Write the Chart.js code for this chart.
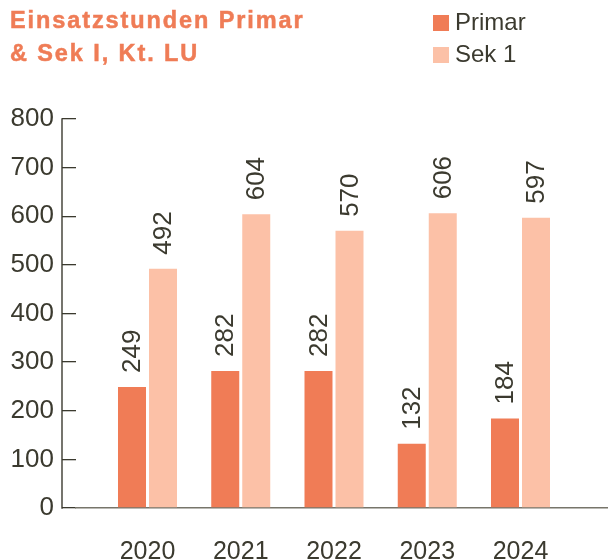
<!DOCTYPE html>
<html>
<head>
<meta charset="utf-8">
<script src="https://cdn.jsdelivr.net/npm/chart.js@4/dist/chart.umd.min.js"></script>
<style>
  html, body { margin: 0; padding: 0; background: #ffffff; }
  #wrap { position: relative; width: 608px; height: 560px; overflow: hidden; }
  #c { position: absolute; left: 0; top: 0; }
  #title {
    position: absolute; left: 10px; top: 3.8px;
    font-family: "Liberation Sans", Arial, sans-serif; font-weight: bold;
    font-size: 23.5px; letter-spacing: 1.9px; line-height: 33.4px; color: #ef7c56; white-space: nowrap;
    -webkit-text-stroke: 0.5px #ef7c56;
  }
  #legend { position: absolute; left: 433px; top: 6.4px; }
  .li { position: relative; height: 32px; line-height: 32px; white-space: nowrap;
        font-family: "Liberation Sans", Arial, sans-serif; font-size: 24px; color: #3b3a2f; }
  .sw { position: absolute; left: 0; top: 8.6px; width: 16px; height: 16px; }
  .lt { position: absolute; left: 22px; top: 0; }
</style>
</head>
<body>
<div id="wrap">
  <canvas id="c" width="608" height="560"></canvas>
  <div id="title">Einsatzstunden Primar<br>&amp; Sek I, Kt. LU</div>
  <div id="legend"></div>
</div>
<script>
// ---- data ----
const years = [2020, 2021, 2022, 2023, 2024];
const seriesNames = ['Primar', 'Sek 1'];
const primar = [249, 282, 282, 132, 184];
const sek1 = [492, 604, 570, 606, 597];
const yTicks = [0, 100, 200, 300, 400, 500, 600, 700, 800];

const colPrimar = '#f07c56';
const colSek = '#fcc1a7';
const textCol = '#3b3a2f';
const FONT = '"Liberation Sans", Arial, sans-serif';

const valueLabels = {
  id: 'valueLabels',
  afterDatasetsDraw(chart) {
    const ctx = chart.ctx;
    ctx.save();
    ctx.fillStyle = textCol;
    ctx.font = '26px ' + FONT;
    ctx.textAlign = 'left';
    ctx.textBaseline = 'middle';
    chart.data.datasets.forEach((ds, di) => {
      const meta = chart.getDatasetMeta(di);
      meta.data.forEach((el, i) => {
        ctx.save();
        ctx.translate(el.x, el.y - 14);
        ctx.rotate(-Math.PI / 2);
        ctx.fillText(String(ds.data[i].y), 0, 1);
        ctx.restore();
      });
    });
    ctx.restore();
  }
};

const yAxisLine = {
  id: 'yAxisLine',
  afterDraw(chart) {
    const y = chart.scales.y;
    const ctx = chart.ctx;
    const x = chart.chartArea.left - 14;
    ctx.save();
    ctx.strokeStyle = textCol;
    ctx.lineWidth = 1.4;
    ctx.beginPath();
    ctx.moveTo(x, y.getPixelForValue(800) - 0.7);
    ctx.lineTo(x, y.getPixelForValue(0) + 0.7);
    ctx.stroke();
    ctx.restore();
  }
};

const pxPerYear = 93.25;
const chart = new Chart(document.getElementById('c'), {
  type: 'bar',
  data: {
    datasets: [
      { label: seriesNames[0], data: years.map((y, i) => ({ x: y, y: primar[i] })), backgroundColor: colPrimar },
      { label: seriesNames[1], data: years.map((y, i) => ({ x: y, y: sek1[i] })), backgroundColor: colSek }
    ]
  },
  options: {
    responsive: false,
    animation: false,
    events: [],
    categoryPercentage: 0.665,
    barPercentage: 0.903,
    layout: { padding: { top: 119, left: 0, right: 0, bottom: 0 } },
    plugins: { legend: { display: false }, title: { display: false }, tooltip: { enabled: false } },
    scales: {
      x: {
        type: 'linear',
        offset: false,
        min: 2020 - 71.5 / pxPerYear,
        max: 2024 + 87.5 / pxPerYear,
        afterBuildTicks: (s) => { s.ticks = years.map(v => ({ value: v })); },
        afterFit: (s) => { s.height = 52; },
        grid: { display: false },
        border: { display: true, color: '#77756a', width: 1.5 },
        ticks: {
          callback: (v) => String(v),
          color: textCol,
          font: { family: FONT, size: 25 },
          padding: 21,
          maxRotation: 0,
          autoSkip: false
        }
      },
      y: {
        min: 0,
        max: 800,
        afterBuildTicks: (s) => { s.ticks = yTicks.map(v => ({ value: v })); },
        afterFit: (s) => { s.width = 76; },
        grid: { display: true, drawOnChartArea: false, drawTicks: true, tickLength: 14, color: textCol, lineWidth: 1.3 },
        border: { display: false },
        ticks: {
          callback: (v) => String(v),
          color: textCol,
          font: { family: FONT, size: 26 },
          padding: 8
        }
      }
    }
  },
  plugins: [valueLabels, yAxisLine]
});

// HTML legend built from the chart datasets
const lg = document.getElementById('legend');
chart.data.datasets.forEach(ds => {
  const d = document.createElement('div');
  d.className = 'li';
  const sw = document.createElement('span');
  sw.className = 'sw';
  sw.style.background = ds.backgroundColor;
  const t = document.createElement('span');
  t.className = 'lt';
  t.textContent = ds.label;
  d.appendChild(sw); d.appendChild(t);
  lg.appendChild(d);
});
</script>
</body>
</html>
